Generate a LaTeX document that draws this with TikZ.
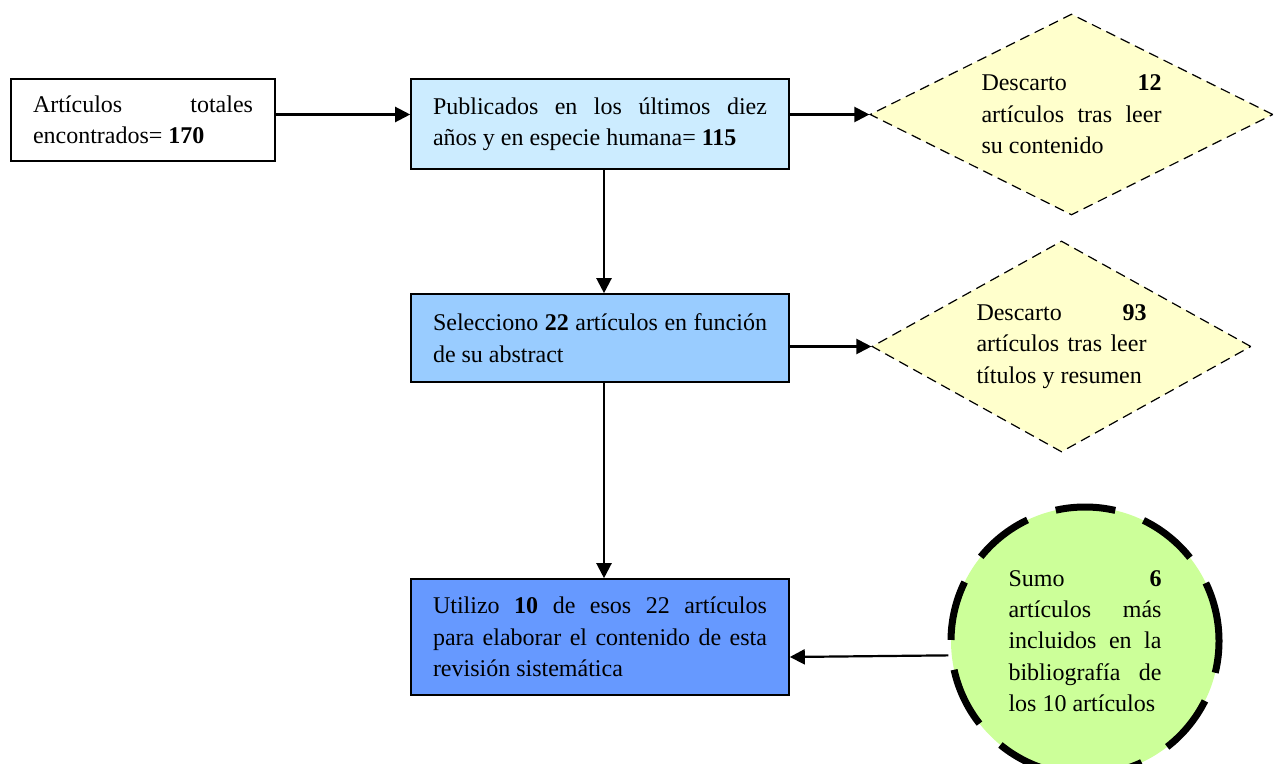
\documentclass[tikz,border=0pt]{standalone}
\usepackage{fontspec}
\setmainfont{Liberation Serif}
\usetikzlibrary{shapes.geometric,arrows.meta}
\hyphenpenalty=10000
\exhyphenpenalty=10000
\tolerance=10000
\hbadness=10000

\definecolor{boxone}{HTML}{CCECFF}
\definecolor{boxtwo}{HTML}{99CCFF}
\definecolor{boxthree}{HTML}{6699FF}
\definecolor{dropfill}{HTML}{FFFFCC}
\definecolor{addfill}{HTML}{CCFF99}

\begin{document}
\begin{tikzpicture}[x=0.5pt, y=-0.5pt,
    every node/.style={font=\fontsize{12}{15.7}\selectfont, align=justify},
    box/.style={draw, line width=0.8pt, inner xsep=11pt},
    drop/.style={diamond, draw, dash pattern=on 5pt off 3pt, line width=0.6pt, fill=dropfill, aspect=2, inner sep=0pt},
    extra/.style={circle, draw, line width=3.5pt, dash pattern=on 30pt off 15pt, fill=addfill, inner sep=0pt},
    arr/.style={line width=1.1pt, -{Triangle[length=7.5pt,width=7.5pt]}}]
    \useasboundingbox (0, 0) rectangle (1284, 764);

    % cajas
    \node[box, text width=110pt, minimum height=41pt] (total) at(143, 120)
        {Artículos totales\linebreak encontrados= \textbf{170}};
    \node[box, fill=boxone, text width=167pt, minimum height=45pt] (publ) at(600, 124)
        {Publicados en los últimos diez\linebreak años y en especie humana= \textbf{115}};
    \node[box, fill=boxtwo, text width=167pt, minimum height=44pt] (selec) at(600, 338)
        {Selecciono \textbf{22} artículos en función\linebreak de su abstract};
    \node[box, fill=boxthree, text width=167pt, minimum height=58pt] (util) at(600, 637)
        {Utilizo \textbf{10} de esos 22 artículos\linebreak para elaborar el contenido de esta\linebreak revisión sistemática};

    % descartes
    \node[drop, text width=90pt, minimum width=201.5pt, minimum height=100.5pt] (desc1) at(1071.5, 114.5)
        {Descarto \textbf{12}\linebreak artículos tras leer\linebreak su contenido};
    \node[drop, text width=85pt, minimum width=189.5pt, minimum height=105.5pt] (desc2) at(1061.5, 346.5)
        {Descarto \textbf{93}\linebreak artículos tras leer\linebreak títulos y resumen};

    % articulos sumados
    \node[extra, text width=76.5pt, minimum size=134pt] (sumo) at(1085, 641)
        {Sumo \textbf{6}\linebreak artículos más\linebreak incluidos en la\linebreak bibliografía de\linebreak los 10 artículos};

    % flechas
    \draw[arr] (total.east |- desc1.west) -- (publ.west |- desc1.west);
    \draw[arr] (publ.east |- desc1.west) -- (desc1.west);
    \draw[arr] ([xshift=2pt]publ.south) -- ([xshift=2pt]selec.north);
    \draw[arr] (selec.east |- desc2.west) -- (desc2.west);
    \draw[arr] ([xshift=2pt]selec.south) -- ([xshift=2pt]util.north);
    \draw[arr] (sumo.186) -- ([yshift=-10pt]util.east);

  \end{tikzpicture}
\end{document}
